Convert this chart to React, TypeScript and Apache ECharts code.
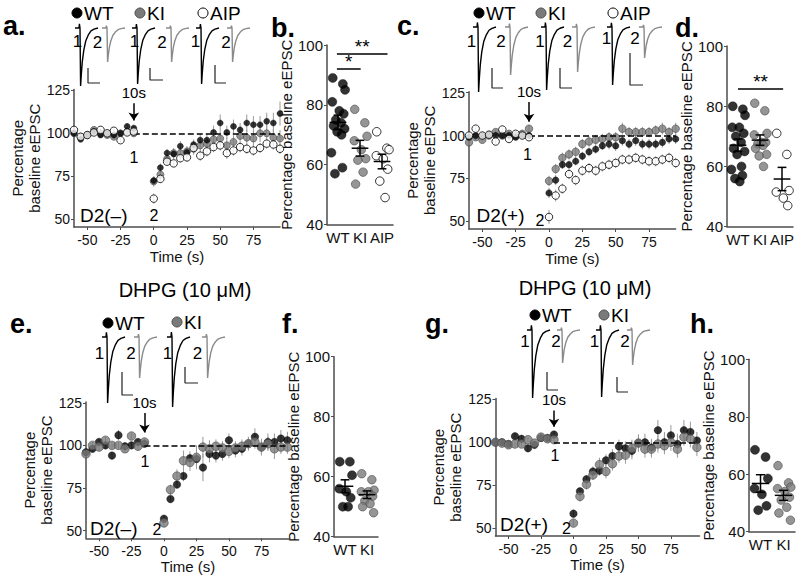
import React, { useEffect, useRef } from 'react';
import * as echarts from 'echarts';

const FONT = '"Liberation Sans", Arial, Helvetica, sans-serif';
const AXIS = '#4d4d4d';

// ---------- time-course data (time in s) ----------
const TIME = [-60, -55, -50, -45, -40, -35, -30, -25, -20, -15, 0, 5, 10, 15, 20, 25, 30, 35, 40, 45, 50, 55, 60, 65, 70, 75, 80, 85, 90, 95];
const X_TICKS = [-50, -25, 0, 25, 50, 75];
const Y_TICKS_TC = [50, 75, 100, 125];

// Panel a, D2(-)
const A_WT = [100, 96.5, 99, 101, 99, 100, 99, 100, 104, 103, 72.5, 80, 88.5, 88, 92.5, 89, 93.5, 96, 96, 100.5, 106, 100.5, 104, 102, 106, 105, 105, 107, 106, 111.5];
const A_WT_SEM = [1, 1, 1, 1.5, 1, 1, 1, 1.5, 2, 2, 2.5, 2.5, 2.5, 3, 3, 3, 3, 3.5, 3.5, 4, 5, 4, 4, 4, 5, 5, 5, 5, 6, 7];
const A_KI = [100, 98, 99, 102, 100, 99, 98, 100, 101, 100, 72, 76, 85, 88.5, 88.5, 89.5, 91, 93, 94, 96.5, 97, 93, 95, 98.5, 97.5, 97, 100, 100, 97.5, 97];
const A_KI_SEM = [1.5, 1.5, 1.5, 1.5, 1.5, 1.5, 1.5, 2, 2, 2, 3, 3, 3, 3, 3, 3, 3.5, 3.5, 4, 4, 4, 4.5, 4, 4, 4.5, 4.5, 5, 5, 5, 5];
const A_AIP = [102, 98, 99, 100.5, 102, 100, 101.5, 96, 100.5, 101, 62, 73.5, 83.5, 82.5, 85.5, 86, 91.5, 87, 89.5, 92, 93, 88.5, 90, 92, 91, 90, 91.5, 94, 93.5, 91];
const A_AIP_SEM = [1, 1, 1, 1, 1, 1, 1, 1.5, 1.5, 1.5, 3, 2.5, 2, 2, 2.5, 2.5, 3, 3, 3, 3, 3, 3.5, 3, 3, 3, 3, 3, 3, 3, 3];

// Panel c, D2(+)
const C_WT = [99, 100, 100, 100.5, 100, 100, 100, 99, 100, 100, 66.5, 74, 83, 83, 85, 88, 90.5, 92, 94, 95, 94, 97, 95, 97, 95, 95, 95, 96, 98, 98];
const C_WT_SEM = [1.5, 1.5, 1.5, 1.5, 1.5, 1.5, 1.5, 1.5, 1.5, 1.5, 3, 3, 2.5, 2.5, 2.5, 2.5, 2.5, 2.5, 2.5, 3, 3, 3, 3, 3, 3, 3, 3, 3, 3, 3];
const C_KI = [96, 99, 97.5, 100, 102, 100, 101, 100, 101, 104, 73.5, 80.5, 87, 89, 90.5, 95, 96.5, 97.5, 98, 99, 99, 104, 102, 102, 102, 102, 103, 104, 102, 104];
const C_KI_SEM = [1.5, 1.5, 1.5, 1.5, 1.5, 1.5, 1.5, 1.5, 1.5, 2, 3, 3, 3, 3, 3, 3, 3, 3, 3, 3, 3, 3.5, 3, 3, 3, 3, 3, 3.5, 3, 3.5];
const C_AIP = [100, 104, 100, 100.5, 96.5, 103.5, 98, 101, 100, 99, 52.5, 65, 69, 77.5, 74, 79.5, 81, 79.5, 82, 83, 84, 86, 86, 87, 86, 85, 85, 86, 87, 84];
const C_AIP_SEM = [1.5, 1.5, 1.5, 1.5, 1.5, 1.5, 1.5, 1.5, 1.5, 1.5, 4, 3.5, 3, 3, 3, 3, 3, 3, 3, 3, 3, 3, 3, 3, 3, 3, 3, 3, 3, 3];

// Panel e, DHPG D2(-)
const E_WT = [96, 98, 102, 100, 94, 106, 99.5, 100, 102, 101, 57, 68.5, 77, 82, 92.5, 92, 87, 95, 94, 95, 103, 97, 98, 101, 105, 99, 102, 102, 104, 103];
const E_WT_SEM = [2, 2, 2, 2, 2, 3, 2, 2, 2, 2, 2, 2, 2, 3, 4, 4, 8, 5, 4, 4, 4, 4, 4, 4, 5, 5, 5, 5, 5, 5];
const E_KI = [95, 100, 99, 103, 100, 100, 98, 105.5, 99.5, 102, 54.5, 74, 82, 91, 90, 93, 99, 98, 99.5, 98.5, 96.5, 98.5, 99.5, 101, 102, 99, 101, 98, 99, 99];
const E_KI_SEM = [2, 2, 2, 2, 2, 2, 2, 2, 2, 2, 2, 3, 4, 6, 5, 7, 6, 5, 4, 4, 4, 4, 4, 4, 4, 4, 4, 6, 4, 4];

// Panel g, DHPG D2(+)
const G_WT = [100, 100, 99, 103.5, 102, 96.5, 98.5, 102.5, 102.5, 104.5, 58.5, 71.5, 78.5, 83, 83.5, 89.5, 92, 97.5, 96.5, 95, 99.5, 100, 97, 107, 100, 104, 99, 107, 106, 101];
const G_WT_SEM = [1.5, 1.5, 1.5, 2, 2, 2, 2, 2, 2, 2, 2, 2, 2.5, 3, 3, 3.5, 4, 4, 4, 5, 5, 5, 5, 6, 6, 6, 6, 6, 6, 5];
const G_KI = [100, 99.5, 98.5, 99, 99, 101.5, 99.5, 103, 102, 101.5, 53, 68.5, 75.5, 81, 87, 83, 87.5, 92, 92.5, 96.5, 99.5, 96, 96, 99, 98, 100, 96, 103, 102, 97];
const G_KI_SEM = [1.5, 1.5, 1.5, 1.5, 1.5, 1.5, 1.5, 1.5, 2, 2, 2, 3, 3, 3, 4, 4, 4, 4, 5, 5, 5, 5, 5, 5, 5, 5, 5, 5, 5, 5];

// ---------- individual cells (percentage baseline eEPSC) ----------
const B_WT = [89, 87, 85, 81, 78, 77, 75, 74, 73, 72, 71, 70, 64, 59, 57];
const B_KI = [78.5, 74, 69.5, 68, 65, 62, 61.5, 57.5, 53.5];
const B_AIP = [71, 65.5, 65, 63, 62, 58.5, 54.5, 49];
const D_WT = [80, 79, 77, 73, 73, 71, 70, 68, 66, 65, 64, 60, 59, 57, 56, 55];
const D_KI = [81, 78.5, 71, 70.5, 68, 68, 67.5, 67, 66, 64, 63.5, 60];
const D_AIP = [71, 64, 52, 51.5, 49.5, 47];
const F_WT = [65, 65, 60.5, 56, 55, 53, 50, 50];
const F_KI = [61, 59, 55.5, 55, 55, 53.5, 52, 51, 50, 48];
const H_WT = [68.5, 66, 58.5, 55, 53, 49, 47.5];
const H_KI = [63, 57, 55.5, 55, 54, 52, 51, 48.5, 46.5, 44];
const GROUPS3 = ['WT', 'KI', 'AIP'];
const GROUPS2 = ['WT', 'KI'];

// ---------- example eEPSC traces ----------
// normalised waveform (time step in px-like units, fraction of peak amplitude)
const TRACE_DT = [0, 4, 4.4, 5, 5.6, 6.3, 7.3, 8.8, 10.8, 13.3, 16, 19, 23];
const TRACE_V = [0, 0, -0.07, 0, 1, 0.8, 0.58, 0.38, 0.22, 0.12, 0.05, 0.02, 0];
// peak amplitudes (trace 1, trace 2 for each genotype), in scale-bar units
const TRACE_AMP_A = [58, 34, 56, 34, 56, 34];
const TRACE_AMP_C = [65, 48, 63, 45, 58, 31];
const TRACE_AMP_E = [66, 41, 70, 41];
const TRACE_AMP_G = [68, 33, 67, 35];

const STYLES: any = {
  wt: { color: '#000000', borderColor: '#000000', borderWidth: 0.5 },
  ki: { color: '#7a7a7a', borderColor: '#4a4a4a', borderWidth: 0.8 },
  aip: { color: '#ffffff', borderColor: '#000000', borderWidth: 1 },
};
const JITTER = [-0.24, 0.22, 0.32, -0.26, 0.06, 0.26, -0.1, 0.14, -0.2, 0.3, -0.04, 0.16, -0.3, 0.2, -0.14, 0.08];

// ---------- layout ----------
const TC_PANELS: any[] = [
  { grid: { left: 74, top: 89.5, width: 206, height: 137.5 }, xMax: 95, arrow: [117.5, 107.5], nameGap: 22,
    series: [[A_KI, A_KI_SEM, 'ki'], [A_WT, A_WT_SEM, 'wt'], [A_AIP, A_AIP_SEM, 'aip']], sizes: { wt: 6, ki: 7, aip: 7.5 } },
  { grid: { left: 469, top: 91.8, width: 206.7, height: 137.2 }, xMax: 95, arrow: [119.5, 108], nameGap: 22,
    series: [[C_KI, C_KI_SEM, 'ki'], [C_WT, C_WT_SEM, 'wt'], [C_AIP, C_AIP_SEM, 'aip']], sizes: { wt: 6.5, ki: 7.5, aip: 7.5 } },
  { grid: { left: 86, top: 401.9, width: 204, height: 136.4 }, xMax: 97, arrow: [119, 107.5], nameGap: 20,
    series: [[E_WT, E_WT_SEM, 'wt'], [E_KI, E_KI_SEM, 'ki']], sizes: { wt: 7.5, ki: 8.5, aip: 8 } },
  { grid: { left: 495.5, top: 398.4, width: 204, height: 137.6 }, xMax: 97, arrow: [118.5, 109], nameGap: 20,
    series: [[G_WT, G_WT_SEM, 'wt'], [G_KI, G_KI_SEM, 'ki']], sizes: { wt: 7.5, ki: 8.5, aip: 8 } },
];

const SC_PANELS: any[] = [
  { grid: { left: 327, top: 45, width: 66, height: 179.5 }, names: GROUPS3,
    groups: [[B_WT, 'wt'], [B_KI, 'ki'], [B_AIP, 'aip']],
    sig: [[0.95, 3.25, 97, '**'], [0.95, 2.03, 92, '*']] },
  { grid: { left: 727, top: 46, width: 66, height: 180.7 }, names: GROUPS3,
    groups: [[D_WT, 'wt'], [D_KI, 'ki'], [D_AIP, 'aip']],
    sig: [[1.0, 3.05, 85.7, '**']] },
  { grid: { left: 334, top: 356.7, width: 44, height: 180 }, names: GROUPS2,
    groups: [[F_WT, 'wt'], [F_KI, 'ki']], sig: [] },
  { grid: { left: 749, top: 359.3, width: 46, height: 172.4 }, names: GROUPS2,
    groups: [[H_WT, 'wt'], [H_KI, 'ki']], sig: [] },
];

const TRACE_PANELS: any[] = [
  { amps: TRACE_AMP_A, xs: [75, 102, 132, 166, 196, 227], y0: 28,
    bars: [[88, 83, 15, 12], [150, 80, 12, 13], [215, 83, 18, 11]],
    labels: [[77.5, 41], [97.5, 42], [134.5, 41], [162, 42], [195.5, 41], [226, 42]] },
  { amps: TRACE_AMP_C, xs: [473, 505, 541, 572, 607, 639], y0: 27,
    bars: [[492, 88, 20, 11], [560, 88, 20, 12], [630, 85, 32, 13]],
    labels: [[471.5, 41], [501, 41], [540, 41], [567.5, 41], [606.5, 38.5], [635, 38.5]] },
  { amps: TRACE_AMP_E, xs: [102, 134, 167, 202], y0: 337,
    bars: [[122, 395, 23, 11], [185, 383, 16, 13]],
    labels: [[99.5, 353.5], [131, 353.5], [167.5, 353.5], [197.5, 353.5]] },
  { amps: TRACE_AMP_G, xs: [527, 557, 596, 627], y0: 330,
    bars: [[547, 390, 18, 11], [617, 392, 15, 11]],
    labels: [[525, 341.5], [556, 341.5], [594.5, 341.5], [625, 341.5]] },
];

function txt(text: string, x: number, y: number, size: number, align = 'center', bold = false) {
  return {
    type: 'text', x, y, z: 20, silent: true,
    style: { text, fill: '#000', font: `${bold ? 'bold ' : ''}${size}px ${FONT}`, align, verticalAlign: 'middle' },
  };
}

function mean(a: number[]) { return a.reduce((s, v) => s + v, 0) / a.length; }
function sem(a: number[]) {
  const m = mean(a);
  const sd = Math.sqrt(a.reduce((s, v) => s + (v - m) * (v - m), 0) / (a.length - 1));
  return sd / Math.sqrt(a.length);
}

function buildOption() {
  const grid: any[] = [];
  const xAxis: any[] = [];
  const yAxis: any[] = [];
  const series: any[] = [];
  const axisLine = { show: true, onZero: false, lineStyle: { color: AXIS, width: 1.5 } };

  TC_PANELS.forEach((p) => {
    const gi = grid.length;
    grid.push({ ...p.grid });
    xAxis.push({
      type: 'value', gridIndex: gi, min: -60, max: p.xMax, axisLine,
      axisTick: { show: true, length: 3, customValues: X_TICKS, lineStyle: { color: AXIS } },
      axisLabel: { customValues: X_TICKS, fontSize: 14, color: '#111', margin: 6 },
      splitLine: { show: false },
      name: 'Time (s)', nameLocation: 'middle', nameGap: p.nameGap,
      nameTextStyle: { fontSize: 15, color: '#111' },
    });
    yAxis.push({
      type: 'value', gridIndex: gi, min: 45.5, max: 125.5, axisLine,
      axisTick: { show: true, length: 3, customValues: Y_TICKS_TC, lineStyle: { color: AXIS } },
      axisLabel: { customValues: Y_TICKS_TC, fontSize: 14, color: '#111', margin: 4 },
      splitLine: { show: false },
      name: 'Percentage\nbaseline eEPSC', nameLocation: 'middle', nameGap: 26,
      nameTextStyle: { fontSize: 15, lineHeight: 17, color: '#111' },
    });
    p.series.forEach(([vals, err]: any) => {
      series.push({
        type: 'custom', xAxisIndex: gi, yAxisIndex: gi, z: 1, silent: true,
        data: TIME.map((t, i) => [t, vals[i], err[i]]),
        encode: { x: 0, y: 1 },
        renderItem: (_params: any, api: any) => {
          const x = api.value(0), y = api.value(1), e = api.value(2);
          const a = api.coord([x, y - e]);
          const b = api.coord([x, y + e]);
          return { type: 'line', shape: { x1: a[0], y1: a[1], x2: b[0], y2: b[1] }, style: { stroke: '#9a9a9a', lineWidth: 1 } };
        },
      });
    });
    p.series.forEach(([vals, _err, kind]: any, k: number) => {
      const s: any = {
        type: 'scatter', xAxisIndex: gi, yAxisIndex: gi, z: 3 + k, silent: true,
        data: TIME.map((t, i) => [t, vals[i]]),
        symbolSize: p.sizes[kind], itemStyle: STYLES[kind],
      };
      if (k === 0) {
        s.markLine = {
          silent: true, symbol: 'none', animation: false, label: { show: false },
          data: [
            [{ coord: [-15, 100], lineStyle: { type: [6, 3], color: '#000', width: 1.5 } }, { coord: [95, 100] }],
            [
              { coord: [-15, p.arrow[0]], symbol: 'none', lineStyle: { type: 'solid', color: '#000', width: 1.5 },
                label: { show: true, formatter: '10s', position: 'start', distance: 3, fontSize: 15, color: '#000' } },
              { coord: [-15, p.arrow[1]], symbol: 'arrow', symbolSize: 8 },
            ],
          ],
        };
      }
      series.push(s);
    });
  });

  SC_PANELS.forEach((p) => {
    const gi = grid.length;
    grid.push({ ...p.grid });
    const names = p.names;
    xAxis.push({
      type: 'value', gridIndex: gi, min: 0.5, max: names.length + 0.5, axisLine,
      axisTick: { show: false },
      axisLabel: {
        customValues: names.map((_: any, k: number) => k + 1),
        formatter: (v: number) => names[Math.round(v) - 1] || '',
        fontSize: 15, color: '#111', margin: 5,
      },
      splitLine: { show: false },
    });
    yAxis.push({
      type: 'value', gridIndex: gi, min: 40, max: 100, interval: 20, axisLine,
      axisTick: { show: true, length: 3, lineStyle: { color: AXIS } },
      axisLabel: { fontSize: 15, color: '#111', margin: 4 },
      splitLine: { show: false },
      name: 'Percentage baseline eEPSC', nameLocation: 'middle', nameGap: 28,
      nameTextStyle: { fontSize: 15, color: '#111' },
    });
    p.groups.forEach(([vals, kind]: any, k: number) => {
      const s: any = {
        type: 'scatter', xAxisIndex: gi, yAxisIndex: gi, z: 3, silent: true,
        data: vals.map((v: number, i: number) => [k + 1 + JITTER[i % JITTER.length], v]),
        symbolSize: kind === 'wt' ? 9 : 8.5, itemStyle: STYLES[kind],
      };
      if (k === 0 && p.sig.length) {
        s.markLine = {
          silent: true, symbol: 'none', animation: false,
          data: p.sig.map(([x1, x2, y, t]: any) => [
            { coord: [x1, y], lineStyle: { type: 'solid', color: '#000', width: 1.5 },
              label: { show: true, formatter: t, position: 'middle', distance: -2, fontSize: 19, color: '#000' } },
            { coord: [x2, y] },
          ]),
        };
      }
      series.push(s);
    });
    series.push({
      type: 'custom', xAxisIndex: gi, yAxisIndex: gi, z: 6, silent: true,
      data: p.groups.map(([vals]: any, k: number) => [k + 1, mean(vals), sem(vals)]),
      encode: { x: 0, y: 1 },
      renderItem: (_params: any, api: any) => {
        const c = api.value(0), m = api.value(1), e = api.value(2);
        const L = (x1: number, y1: number, x2: number, y2: number) => {
          const a = api.coord([x1, y1]);
          const b = api.coord([x2, y2]);
          return { type: 'line', shape: { x1: a[0], y1: a[1], x2: b[0], y2: b[1] }, style: { stroke: '#000', lineWidth: 1.5 } };
        };
        return {
          type: 'group',
          children: [L(c - 0.38, m, c + 0.38, m), L(c, m - e, c, m + e), L(c - 0.2, m + e, c + 0.2, m + e), L(c - 0.2, m - e, c + 0.2, m - e)],
        };
      },
    });
  });

  // overlay grid for example traces (1 unit = 1 px)
  const oi = grid.length;
  grid.push({ left: 0, top: 0, width: 800, height: 580 });
  xAxis.push({ type: 'value', gridIndex: oi, min: 0, max: 800, show: false });
  yAxis.push({ type: 'value', gridIndex: oi, min: 0, max: 580, inverse: true, show: false });
  TRACE_PANELS.forEach((tp) => {
    tp.amps.forEach((amp: number, k: number) => {
      const x0 = tp.xs[k];
      series.push({
        type: 'line', xAxisIndex: oi, yAxisIndex: oi, z: 8, silent: true, symbol: 'none', showSymbol: false,
        data: TRACE_DT.map((d, i) => [x0 + d, tp.y0 + TRACE_V[i] * amp]),
        lineStyle: { color: k % 2 === 0 ? '#000' : '#8a8a8a', width: 1.4 },
      });
    });
    tp.bars.forEach(([x, yb, h, w]: any) => {
      series.push({
        type: 'line', xAxisIndex: oi, yAxisIndex: oi, z: 8, silent: true, symbol: 'none', showSymbol: false,
        data: [[x, yb - h], [x, yb], [x + w, yb]],
        lineStyle: { color: '#222', width: 1.2 },
      });
    });
  });

  const graphic: any[] = [];
  // panel letters
  [['a.', 3, 26], ['b.', 271, 28], ['c.', 397, 26], ['d.', 675, 28], ['e.', 10, 324], ['f.', 282, 324], ['g.', 425, 324], ['h.', 690, 324]]
    .forEach(([t, x, y]: any) => graphic.push(txt(t, x, y, 27, 'left', true)));
  // legends
  const legends: any[] = [
    [77, 13, 'wt', 'WT'], [140, 13, 'ki', 'KI'], [203, 13, 'aip', 'AIP'],
    [479, 13, 'wt', 'WT'], [541, 13, 'ki', 'KI'], [613, 13, 'aip', 'AIP'],
    [108, 323, 'wt', 'WT'], [177, 322, 'ki', 'KI'],
    [535, 315, 'wt', 'WT'], [604, 315, 'ki', 'KI'],
  ];
  legends.forEach(([cx, cy, kind, t]) => {
    const st = STYLES[kind];
    graphic.push({ type: 'circle', z: 20, silent: true, shape: { cx, cy, r: 5 }, style: { fill: st.color, stroke: st.borderColor, lineWidth: 1 } });
    graphic.push(txt(t, cx + 7, cy, 19, 'left'));
  });
  // trace labels
  TRACE_PANELS.forEach((tp) => {
    tp.labels.forEach(([x, y]: any, k: number) => graphic.push(txt(k % 2 === 0 ? '1' : '2', x, y, 17)));
  });
  // time-course annotations
  [
    ['1', 134, 157], ['2', 154, 215], ['1', 527.5, 154], ['2', 540, 220],
    ['1', 145, 461], ['2', 157, 529], ['1', 555, 455], ['2', 566.5, 528.5],
  ].forEach(([t, x, y]: any) => graphic.push(txt(t, x, y, 16)));
  graphic.push(txt('D2(\u2013)', 80, 215.5, 19, 'left'));
  graphic.push(txt('D2(+)', 476.5, 215.5, 19, 'left'));
  graphic.push(txt('D2(\u2013)', 90, 528.5, 19, 'left'));
  graphic.push(txt('D2(+)', 500, 524, 19, 'left'));
  graphic.push(txt('DHPG (10 \u03bcM)', 185, 290, 20));
  graphic.push(txt('DHPG (10 \u03bcM)', 585, 288, 20));

  return {
    animation: false,
    backgroundColor: '#ffffff',
    textStyle: { fontFamily: FONT },
    grid, xAxis, yAxis, series, graphic,
  };
}

export default function App() {
  const ref = useRef<HTMLDivElement>(null);
  useEffect(() => {
    const chart = echarts.init(ref.current as HTMLDivElement, null, { renderer: 'svg' });
    chart.setOption(buildOption() as any);
    return () => chart.dispose();
  }, []);
  return <div ref={ref} style={{ position: 'absolute', left: 0, top: 0, width: 800, height: 580, background: '#fff' }} />;
}
